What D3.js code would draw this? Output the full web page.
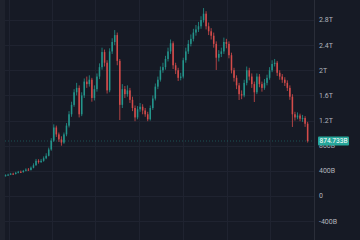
<!DOCTYPE html>
<html>
<head>
<meta charset="utf-8">
<script src="https://cdn.jsdelivr.net/npm/d3@7"></script>
<style>
  html, body { margin: 0; padding: 0; background: #161a25; }
  svg { display: block; }
</style>
</head>
<body>
<svg width="360" height="240"></svg>
<script>
  // candle values, in billions
  const opens = [320,330,340,355,350,370,385,380,400,420,415,450,490,560,540,560,600,640,740,880,
    1090,980,900,850,980,1120,1300,1450,1650,1720,1300,1600,1820,1780,1850,1560,1700,1900,2050,2290,
    2120,1680,2300,2450,2560,2150,1450,1700,1620,1680,1530,1400,1250,1380,1420,1360,1300,1220,1400,1550,
    1740,1850,2000,2050,2180,2300,2430,2080,2000,1880,1900,2160,2300,2420,2500,2600,2650,2700,2800,2900,
    2700,2620,2550,2420,2200,2260,2300,2450,2420,2240,2000,1880,1760,1620,1600,1800,2000,1900,1780,1650,
    1900,1780,1720,1800,1880,2000,2100,2120,1960,1900,1850,1800,1720,1580,1300,1250,1280,1230,1240,1150];
  const closes = [330,340,355,350,370,385,380,400,420,415,450,490,560,540,560,600,640,740,880,1090,
    980,900,850,980,1120,1300,1450,1650,1720,1300,1600,1820,1780,1850,1560,1700,1900,2050,2290,2120,
    1680,2300,2450,2560,2150,1450,1700,1620,1680,1530,1400,1250,1380,1420,1360,1300,1220,1400,1550,1740,
    1850,2000,2050,2180,2300,2430,2080,2000,1880,1900,2160,2300,2420,2500,2600,2650,2700,2800,2900,2700,
    2620,2550,2420,2200,2260,2300,2450,2420,2240,2000,1880,1760,1620,1600,1800,2000,1900,1780,1650,1900,
    1780,1720,1800,1880,2000,2100,2120,1960,1900,1850,1800,1720,1580,1300,1250,1280,1230,1240,1150,875];
  const highs = [345,355,368,370,385,400,405,415,440,445,470,520,590,585,590,630,680,770,920,1140,
    1120,1010,950,1010,1160,1350,1500,1700,1800,1760,1650,1870,1900,1920,1880,1760,1950,2110,2360,2330,
    2160,2350,2510,2640,2600,2180,1780,1750,1760,1720,1580,1440,1430,1480,1460,1400,1340,1440,1600,1790,
    1900,2060,2120,2230,2360,2490,2460,2120,2040,1960,2200,2360,2480,2570,2660,2720,2770,2860,2990,2940,
    2760,2670,2600,2460,2320,2360,2520,2500,2460,2280,2040,1920,1800,1680,1850,2060,2040,1950,1820,1950,
    1940,1820,1860,1930,2050,2160,2180,2150,2000,1940,1890,1840,1760,1620,1340,1330,1310,1290,1270,1180];
  const lows = [310,322,332,338,342,360,365,372,392,400,405,440,480,515,525,545,585,630,720,860,
    940,860,800,830,950,1090,1260,1420,1600,1250,1270,1560,1720,1740,1500,1520,1660,1860,2010,2060,
    1630,1650,2260,2400,2080,1209,1400,1560,1580,1480,1350,1190,1220,1340,1300,1260,1190,1200,1370,1520,
    1700,1820,1960,2010,2140,2260,2020,1940,1830,1840,1870,2120,2260,2380,2460,2550,2610,2660,2760,2650,
    2560,2490,2360,2005,2140,2210,2260,2350,2190,1950,1820,1700,1527,1540,1570,1760,1840,1720,1495,1620,
    1730,1660,1690,1760,1850,1970,2060,1910,1850,1800,1750,1670,1530,1098,1200,1220,1190,1180,1100,850];

  const tickValues = [2800, 2400, 2000, 1600, 1200, 800, 400, 0, -400];
  const tickLabels = ["2.8T", "2.4T", "2T", "1.6T", "1.2T", "800B", "400B", "0", "-400B"];
  const lastLabel = "874.733B";

  const svg = d3.select("svg"),
      width = +svg.attr("width"),
      height = +svg.attr("height");

  const upColor = "#26a69a", downColor = "#ef5350";
  const axisX = 314;

  const candles = closes.map((c, i) => ({ i: i, o: opens[i], h: highs[i], l: lows[i], c: c }));

  const x = d3.scaleBand()
      .domain(candles.map(d => d.i))
      .range([4.8, 308.4])
      .paddingInner(0.4);

  const y = d3.scaleLinear()
      .domain([0, 2800])
      .range([196, 20]);

  // left panel strip
  svg.append("rect")
      .attr("x", 0).attr("y", 0)
      .attr("width", 5).attr("height", height)
      .attr("fill", "#1e222d");

  // grid
  const grid = svg.append("g");
  grid.selectAll("line.h")
      .data(tickValues)
      .join("line")
      .attr("class", "h")
      .attr("x1", 5).attr("x2", axisX)
      .attr("y1", d => Math.round(y(d)) + 0.5)
      .attr("y2", d => Math.round(y(d)) + 0.5)
      .attr("stroke", "#1f2330");

  const vGrid = [9, 52, 95, 139, 183, 227, 270];
  grid.selectAll("line.v")
      .data(vGrid)
      .join("line")
      .attr("class", "v")
      .attr("x1", d => d + 0.5).attr("x2", d => d + 0.5)
      .attr("y1", 0).attr("y2", height)
      .attr("stroke", "#1f2330");

  // last price dotted line
  const lastY = y(closes[closes.length - 1]);
  svg.append("line")
      .attr("x1", 5).attr("x2", axisX)
      .attr("y1", lastY).attr("y2", lastY)
      .attr("stroke", upColor)
      .attr("stroke-opacity", 0.4)
      .attr("stroke-dasharray", "1,2");

  // candles
  const g = svg.append("g").attr("opacity", 0.88);
  g.selectAll("line.wick")
      .data(candles)
      .join("line")
      .attr("class", "wick")
      .attr("x1", d => x(d.i) + x.bandwidth() / 2)
      .attr("x2", d => x(d.i) + x.bandwidth() / 2)
      .attr("y1", d => y(d.h))
      .attr("y2", d => y(d.l))
      .attr("stroke", d => d.c >= d.o ? upColor : downColor)
      .attr("stroke-width", 0.8);

  g.selectAll("rect.body")
      .data(candles)
      .join("rect")
      .attr("class", "body")
      .attr("x", d => x(d.i))
      .attr("width", x.bandwidth())
      .attr("y", d => y(Math.max(d.o, d.c)))
      .attr("height", d => Math.max(1, Math.abs(y(d.o) - y(d.c))))
      .attr("fill", d => d.c >= d.o ? upColor : downColor);

  // price axis
  svg.append("line")
      .attr("x1", axisX + 0.5).attr("x2", axisX + 0.5)
      .attr("y1", 0).attr("y2", height)
      .attr("stroke", "#2a2e39");

  svg.append("g")
      .selectAll("text")
      .data(tickValues)
      .join("text")
      .attr("x", axisX + 5)
      .attr("y", d => y(d))
      .attr("dy", "0.35em")
      .attr("fill", "#b2b5be")
      .style("font-family", "Roboto, 'DejaVu Sans', sans-serif")
      .style("font-size", "7px")
      .text((d, i) => tickLabels[i]);

  // last price label, drawn over the 800B tick like the platform does
  svg.append("rect")
      .attr("x", axisX + 4).attr("y", lastY - 4.5)
      .attr("width", 31).attr("height", 9)
      .attr("rx", 1)
      .attr("fill", upColor);

  svg.append("text")
      .attr("x", axisX + 5.5)
      .attr("y", lastY)
      .attr("dy", "0.35em")
      .attr("fill", "#ffffff")
      .style("font-family", "Roboto, 'DejaVu Sans', sans-serif")
      .style("font-size", "6.6px")
      .text(lastLabel);
</script>
</body>
</html>
